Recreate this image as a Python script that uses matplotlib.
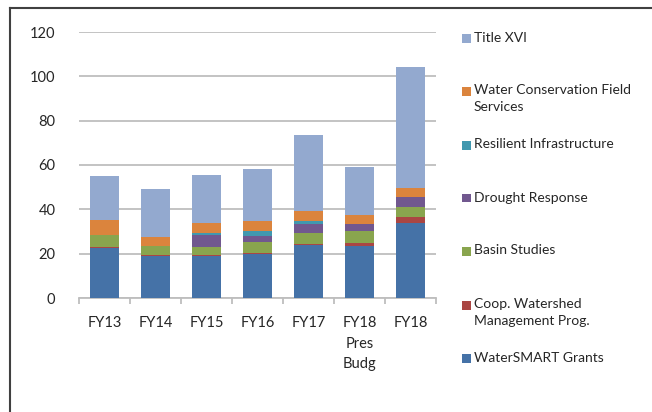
import numpy as np
import matplotlib
matplotlib.use("Agg")
import matplotlib.pyplot as plt
from matplotlib.patches import Rectangle
from matplotlib.lines import Line2D

plt.rcParams['font.family'] = ['Lato', 'DejaVu Sans']

# ── Data ─────────────────────────────────────────────────────
categories = ["FY13", "FY14", "FY15", "FY16", "FY17", "FY18\nPres\nBudg", "FY18"]
watersmart = [22.6, 19.1, 18.9, 19.7, 23.9, 23.4, 34.0]
coop       = [0.6, 0.4, 0.5, 0.8, 0.6, 1.5, 2.4]
basin      = [5.4, 4.1, 3.5, 4.9, 4.8, 5.3, 4.8]
drought    = [0.0, 0.0, 5.4, 2.6, 4.1, 3.3, 4.4]
resilient  = [0.0, 0.0, 1.2, 2.2, 1.3, 0.0, 0.0]
water_cons = [6.5, 3.8, 4.3, 4.5, 4.5, 4.1, 4.0]
title_xvi  = [20.1, 21.6, 21.7, 23.3, 34.2, 21.5, 54.5]

series = [
    ("WaterSMART Grants",                      watersmart, "#4572A7"),
    ("Coop. Watershed\nManagement Prog.",      coop,       "#AA4643"),
    ("Basin Studies",                          basin,      "#89A54E"),
    ("Drought Response",                       drought,    "#71588F"),
    ("Resilient Infrastructure",               resilient,  "#4198AF"),
    ("Water Conservation Field\nServices",     water_cons, "#DB843D"),
    ("Title XVI",                              title_xvi,  "#93A9CF"),
]

TEXT = "#262626"
GRID = "#BEBEBE"

# ── Canvas ───────────────────────────────────────────────────
fig = plt.figure(figsize=(6.52, 4.12), dpi=100, facecolor="white")
ax = fig.add_axes([79/652, 1 - 298/412, 357/652, 266/412])

x = np.arange(len(categories))
bottom = np.zeros(len(categories))
for name, vals, col in series:
    ax.bar(x, vals, bottom=bottom, width=0.56, color=col,
           edgecolor="none", zorder=3)
    bottom += np.array(vals)

ax.set_xlim(-0.5, len(categories) - 0.5)
ax.set_ylim(0, 120)
ax.set_yticks(range(0, 121, 20))
ax.yaxis.grid(True, color=GRID, linewidth=1.3, zorder=0)
ax.set_axisbelow(True)

for s in ["top", "right", "left"]:
    ax.spines[s].set_visible(False)
ax.spines["bottom"].set_color(GRID)
ax.spines["bottom"].set_linewidth(1.3)

ax.set_xticks(x)
ax.set_xticklabels(categories, fontsize=10.5, color=TEXT, linespacing=1.6)
ax.set_xticks(np.arange(-0.5, len(categories), 1), minor=True)
ax.tick_params(axis="x", which="major", length=0, pad=13)
ax.tick_params(axis="x", which="minor", length=4, color=GRID, width=1.3)
ax.tick_params(axis="y", length=0, pad=17, labelsize=10.5, labelcolor=TEXT)

# ── Legend (placed like the spreadsheet one) ─────────────────
legend_y = [38, 91, 145, 198, 251, 305, 358]
for (name, vals, col), ly in zip(series[::-1], legend_y):
    fig.patches.append(Rectangle((462/652, 1 - (ly + 4.5)/412), 8.5/652, 8.5/412,
                                 transform=fig.transFigure, facecolor=col,
                                 edgecolor="none"))
    fig.text(474/652, 1 - (ly - 6.5)/412, name, ha="left", va="top",
             fontsize=10, color=TEXT, linespacing=1.45)

# ── Frame ────────────────────────────────────────────────────
fig.lines.append(Line2D([10/652, 10/652], [0, 1 - 8/412], transform=fig.transFigure,
                        color="#404040", linewidth=1.5))
fig.lines.append(Line2D([10/652, 1], [1 - 8/412, 1 - 8/412], transform=fig.transFigure,
                        color="#404040", linewidth=1.5))

fig.savefig("out.png", dpi=100, facecolor="white")
